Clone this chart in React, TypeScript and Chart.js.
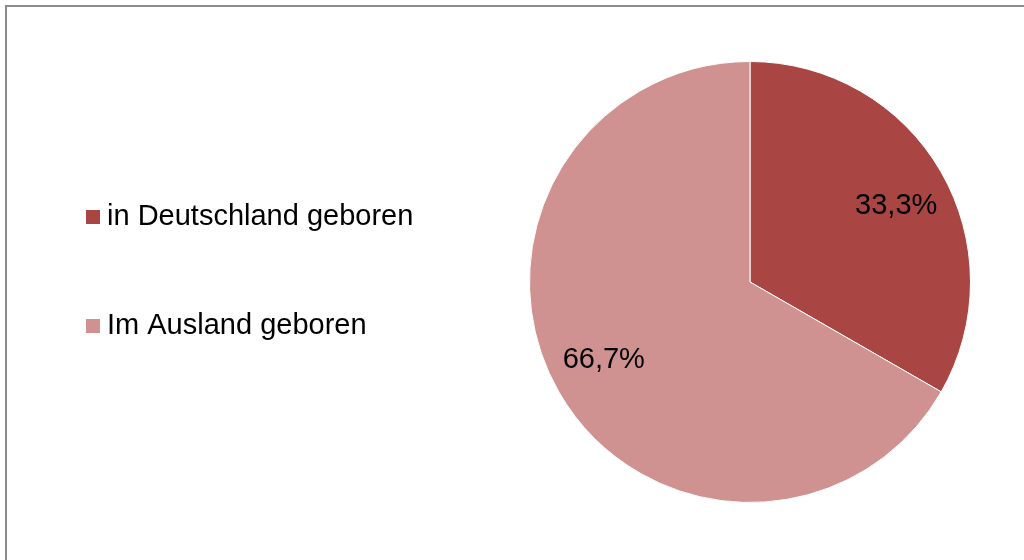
import React, { useEffect, useRef } from "react";
import { Chart, registerables } from "chart.js";

Chart.register(...registerables);

const categories = ["in Deutschland geboren", "Im Ausland geboren"];
const values = [33.3, 66.7];
const valueLabels = ["33,3%", "66,7%"];
const colors = ["#A94643", "#D09291"];

const FONT = "'Liberation Sans', Arial, sans-serif";

const framePlugin = {
  id: "frame",
  beforeDraw(chart: any) {
    const ctx = chart.ctx;
    ctx.save();
    ctx.fillStyle = "#ffffff";
    ctx.fillRect(0, 0, chart.width, chart.height);
    ctx.strokeStyle = "#8c8c8c";
    ctx.lineWidth = 2;
    ctx.beginPath();
    ctx.moveTo(6, chart.height + 5);
    ctx.lineTo(6, 6);
    ctx.lineTo(chart.width + 5, 6);
    ctx.stroke();
    ctx.restore();
  },
};

const labelsPlugin = {
  id: "customLabels",
  afterDraw(chart: any) {
    const ctx = chart.ctx;
    const meta = chart.getDatasetMeta(0);
    const ds = chart.data.datasets[0];
    ctx.save();
    // value labels on slices
    ctx.font = `29px ${FONT}`;
    ctx.fillStyle = "#000000";
    ctx.textAlign = "center";
    ctx.textBaseline = "middle";
    meta.data.forEach((arc: any, i: number) => {
      const p = arc.getProps(["x", "y", "startAngle", "endAngle", "outerRadius"], true);
      const mid = (p.startAngle + p.endAngle) / 2 + (2.2 * Math.PI) / 180;
      const r = p.outerRadius * 0.75;
      ctx.fillText(valueLabels[i], p.x + Math.cos(mid) * r, p.y + Math.sin(mid) * r + 1);
    });
    // legend
    const lx = 86;
    const ys = [217, 326];
    ctx.textAlign = "left";
    chart.data.labels.forEach((lab: string, i: number) => {
      ctx.fillStyle = ds.backgroundColor[i];
      ctx.fillRect(lx, ys[i] - 7, 14, 14);
      ctx.fillStyle = "#000000";
      ctx.fillText(lab, lx + 21, ys[i]);
    });
    ctx.restore();
  },
};

export default function App() {
  const ref = useRef<HTMLCanvasElement>(null);
  useEffect(() => {
    document.body.style.margin = "0";
    const chart = new Chart(ref.current!, {
      type: "pie",
      data: {
        labels: categories,
        datasets: [
          {
            data: values,
            backgroundColor: colors,
            borderColor: "#ffffff",
            borderWidth: 1,
          },
        ],
      },
      options: {
        animation: false,
        responsive: false,
        layout: { padding: { left: 529, right: 53, top: 61, bottom: 57 } },
        plugins: {
          legend: { display: false },
          tooltip: { enabled: false },
        },
      },
      plugins: [framePlugin, labelsPlugin],
    });
    return () => chart.destroy();
  }, []);
  return (
    <div style={{ position: "fixed", left: 0, top: 0, width: 1024, height: 560 }}>
      <canvas ref={ref} width={1024} height={560} style={{ width: 1024, height: 560 }} />
    </div>
  );
}
